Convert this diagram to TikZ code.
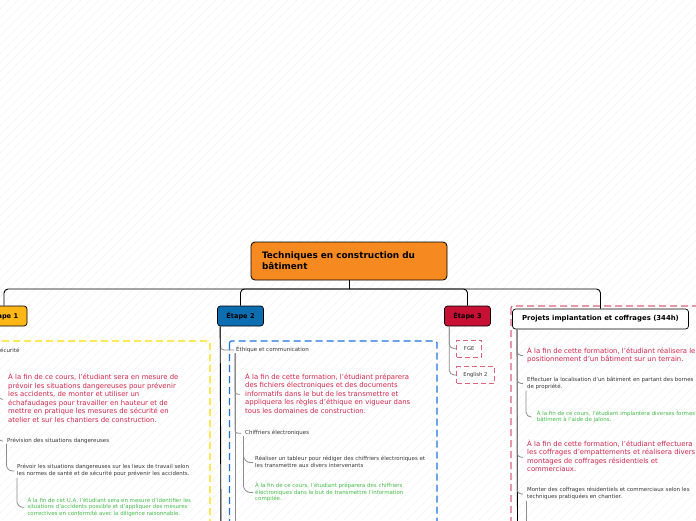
\documentclass[tikz,border=0pt]{standalone}
\usepackage{fontspec}
\setmainfont{DejaVu Sans}
\definecolor{rootC}{RGB}{246,138,32}
\definecolor{e1C}{RGB}{252,183,22}
\definecolor{e2C}{RGB}{12,110,176}
\definecolor{e3C}{RGB}{198,16,52}
\definecolor{redT}{RGB}{208,38,76}
\definecolor{greenT}{RGB}{68,188,72}
\definecolor{darkT}{RGB}{55,55,55}
\definecolor{yDash}{RGB}{255,222,0}
\definecolor{bDash}{RGB}{30,115,222}
\definecolor{pDash}{RGB}{222,98,124}
\definecolor{hatchC}{RGB}{243,243,243}
\tikzset{
  rootbox/.style={draw=black, line width=0.8pt, fill=rootC, rounded corners=4pt,
    minimum width=196pt, minimum height=38pt, text width=174pt, align=left,
    inner xsep=11pt, font=\bfseries\fontsize{8.9}{11}\selectfont},
  stagebox/.style={draw=black, line width=0.7pt, rounded corners=3pt,
    minimum width=46pt, minimum height=20pt, inner sep=0pt,
    font=\bfseries\fontsize{6.6}{8}\selectfont},
  mainconn/.style={draw=black, line width=0.9pt},
  gconn/.style={draw=gray!90, line width=0.8pt},
  redtxt/.style={text=redT, align=left, inner sep=0pt, anchor=west,
    font=\fontsize{6.9}{8.5}\selectfont},
  smalltxt/.style={text=darkT, align=left, inner sep=0pt, anchor=west,
    font=\fontsize{5.45}{7}\selectfont},
  greentxt/.style={text=greenT, align=left, inner sep=0pt, anchor=west,
    font=\fontsize{5.45}{6.7}\selectfont},
  lbl/.style={text=darkT, inner sep=0pt, anchor=west,
    font=\fontsize{5.5}{6.5}\selectfont},
  groupdash/.style={line width=1.2pt, dash pattern=on 7pt off 4pt, rounded corners=2pt},
  smalldash/.style={draw=pDash, line width=1.1pt, dash pattern=on 5pt off 3pt,
    inner sep=0pt, text=darkT, font=\fontsize{5.3}{6.5}\selectfont},
  hatch/.style={draw=hatchC, line width=0.6pt}
}
\begin{document}
\begin{tikzpicture}[x=1pt,y=-1pt]
\useasboundingbox (0,0) rectangle (696,520);
\begin{scope}
\clip (0,0) rectangle (696,520);
\fill[white] (0,0) rectangle (696,520);
\foreach \i in {-520,-511,...,700} \draw[hatch] (\i,520) -- ++(520,-520);

% group frames
\draw[groupdash, draw=yDash] (-10,341) rectangle (210,540);
\draw[groupdash, draw=bDash] (229.5,341) rectangle (437,540);
\draw[groupdash, draw=pDash] (511,306) rectangle (720,540);

% root and stages
\node[rootbox] (root) at (349,261) {Techniques en construction du\\bâtiment};
\node[stagebox, fill=e1C] (e1) at (4,316) {Étape 1};
\node[stagebox, fill=e2C] (e2) at (240.5,316) {Étape 2};
\node[stagebox, fill=e3C] (e3) at (467.5,316) {Étape 3};
\node[stagebox, fill=white, minimum width=176pt, font=\bfseries\fontsize{6.9}{8}\selectfont] (pr) at (600.5,319) {Projets implantation et coffrages (344h)};

\coordinate (hub) at (349,289);
\draw[mainconn] (root.south) -- (hub);
\draw[mainconn, rounded corners=4pt] (hub) -| (e1.north);
\draw[mainconn, rounded corners=4pt] (hub) -| (e2.north);
\draw[mainconn, rounded corners=4pt] (hub) -| (e3.north);
\draw[mainconn, rounded corners=4pt] (hub) -| (pr.north);

% ---------- Etape 1 ----------
\node[lbl] (sec) at (-3.5,350) {Sécurité};
\node[redtxt] (r1) at (8,399.2) {\strut À la fin de ce cours, l'étudiant sera en mesure de\\
\strut prévoir les situations dangereuses pour prévenir\\
\strut les accidents, de monter et utiliser un\\
\strut échafaudages pour travailler en hauteur et de\\
\strut mettre en pratique les mesures de sécurité en\\
\strut atelier et sur les chantiers de construction.};
\node[lbl] (pv) at (7,441) {Prévision des situations dangereuses};
\draw[gconn, rounded corners=3pt] ([xshift=2.5pt]sec.south west) |- ([xshift=-5pt]r1.west);
\draw[gconn, rounded corners=3pt] ([xshift=2.5pt]sec.south west) |- ([xshift=-4pt]pv.west);
\node[smalltxt] (pr1) at (17,471) {\strut Prévoir les situations dangereuses sur les lieux de travail selon\\
\strut les normes de santé et de sécurité pour prévenir les accidents.};
\draw[gconn, rounded corners=6pt] ([xshift=-0.5pt]pv.south west) |- ([xshift=-3pt]pr1.west);
\node[greentxt] (g1) at (27.3,507.3) {\strut À la fin de cet U.A, l'étudiant sera en mesure d'identifier les\\
\strut situations d'accidents possible et d'appliquer des mesures\\
\strut correctives en conformité avec la diligence raisonnable.};
\draw[gconn, rounded corners=6pt] ([xshift=0pt]pr1.south west) |- ([xshift=-3pt]g1.west);

% ---------- Etape 2 ----------
\coordinate (e2end) at (221,540);
\node[lbl] (eth) at (236,350) {Éthique et communication};
\draw[gconn, rounded corners=4pt] ([xshift=3pt]e2.south west) |- ([xshift=-2pt]eth.west);
\draw[mainconn] ([xshift=3pt]e2.south west) -- (e2end);
\node[redtxt] (r2) at (245,394.3) {\strut À la fin de cette formation, l'étudiant préparera\\
\strut des fichiers électroniques et des documents\\
\strut informatifs dans le but de les transmettre et\\
\strut appliquera les règles d'éthique en vigueur dans\\
\strut tous les domaines de construction.};
\node[lbl] (chf) at (245,433.3) {Chiffriers électroniques};
\coordinate (e2s2) at (235,540);
\draw[gconn] ([xshift=-1pt]eth.south west) -- (e2s2);
\draw[gconn, rounded corners=3pt] ([xshift=-1pt]eth.south west) |- ([xshift=-5pt]r2.west);
\draw[gconn, rounded corners=3pt] ([xshift=-1pt]eth.south west) |- ([xshift=-4pt]chf.west);
\node[smalltxt] (rl) at (255,462.5) {\strut Réaliser un tableur pour rédiger des chiffriers électroniques et\\
\strut les transmettre aux divers intervenants};
\node[greentxt] (g2) at (255,492.5) {\strut À la fin de ce cours, l'étudiant préparera des chiffriers\\
\strut électroniques dans le but de transmettre l'information\\
\strut compilée.};
\draw[gconn, rounded corners=7pt] ([xshift=-1.5pt]chf.south west) |- ([xshift=-2pt]rl.west);
\draw[gconn, rounded corners=7pt] ([xshift=-1.5pt]chf.south west) |- ([xshift=-2pt]g2.west);

% ---------- Etape 3 ----------
\node[smalldash, minimum width=25pt, minimum height=17pt] (fge) at (469.2,348.7) {FGE};
\node[smalldash, minimum width=37.6pt, minimum height=16.6pt] (eng) at (475.5,375) {English 2};
\draw[gconn, rounded corners=5pt] ([xshift=5pt]e3.south west) |- (fge.west);
\draw[gconn, rounded corners=5pt] ([xshift=5pt]e3.south west) |- (eng.west);

% ---------- Projets ----------
\coordinate (prend) at (517.5,540);
\draw[mainconn] ([xshift=5pt]pr.south west) -- (prend);
\node[redtxt] (r3) at (527,355.5) {\strut À la fin de cette formation, l'étudiant réalisera le\\
\strut positionnement d'un bâtiment sur un terrain.};
\node[smalltxt] (ef) at (527,383.5) {\strut Effectuer la localisation d'un bâtiment en partant des bornes\\
\strut de propriété.};
\node[greentxt] (g3) at (536.7,417) {\strut À la fin de ce cours, l'étudiant implantera diverses formes de\\
\strut bâtiment à l'aide de jalons.};
\node[redtxt] (r4) at (527,457.2) {\strut À la fin de cette formation, l'étudiant effectuera\\
\strut les coffrages d'empattements et réalisera divers\\
\strut montages de coffrages résidentiels et\\
\strut commerciaux.};
\node[smalltxt] (mt) at (527,494) {\strut Monter des coffrages résidentiels et commerciaux selon les\\
\strut techniques pratiquées en chantier.};
\draw[gconn, rounded corners=4pt] ([xshift=5pt]pr.south west) |- ([xshift=-4pt]r3.west);
\draw[gconn, rounded corners=4pt] ([xshift=5pt]pr.south west) |- ([xshift=-4pt]ef.west);
\draw[gconn, rounded corners=4pt] ([xshift=5pt]pr.south west) |- ([xshift=-4pt]r4.west);
\draw[gconn, rounded corners=4pt] ([xshift=5pt]pr.south west) |- ([xshift=-4pt]mt.west);
\draw[gconn, rounded corners=5pt] ([xshift=-1pt]ef.south west) |- ([xshift=-5pt]g3.west);
\coordinate (mtend) at (526,540);
\draw[gconn] ([xshift=-1pt]mt.south west) -- (mtend);
\end{scope}
\end{tikzpicture}
\end{document}
